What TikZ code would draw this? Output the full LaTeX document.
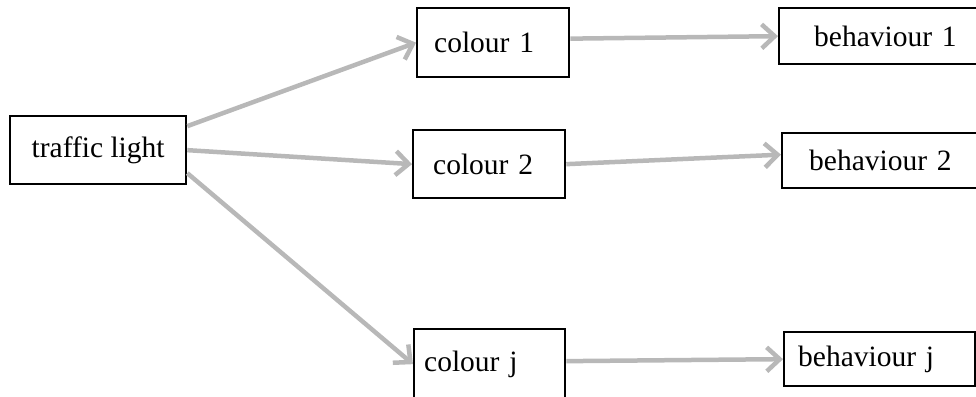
\documentclass[tikz,border=0pt]{standalone}
\usepackage{fontspec}
\setmainfont{Liberation Serif}
\usetikzlibrary{arrows.meta}

\definecolor{linkgray}{RGB}{184,184,184}
\tikzstyle{block} = [rectangle, draw, line width=2.3pt, anchor=north west, inner ysep=0pt, font=\fontsize{29.5}{34}\selectfont]

\begin{document}
\begin{tikzpicture}[x=1pt, y=-1pt]
        \tikzset{link/.style = {draw=linkgray, line width=4.5pt, -{Straight Barb[length=13pt, width=24pt]}}}
        \useasboundingbox (0,0) rectangle (976,396);
        % Source node
        \node (tl) at (9,115) [block, minimum width=176pt, minimum height=68pt] {traffic light};
        % Colours
        \node (c1) at (416,7) [block, text width=118pt, inner xsep=17pt, align=left, minimum height=69pt] {colour 1};
        \node (c2) at (412,129) [block, text width=112pt, inner xsep=20pt, align=left, minimum height=68pt] {colour 2};
        \node (cj) at (413,328) [block, text width=131pt, inner xsep=10pt, align=left, minimum height=70pt] {colour j};
        % Behaviours
        \node (b1) at (778,7) [block, text width=170pt, inner xsep=35pt, align=left, minimum height=56pt] {behaviour 1};
        \node (b2) at (781,132) [block, text width=186pt, inner xsep=27pt, align=left, minimum height=55pt] {behaviour 2};
        \node (bj) at (783,331) [block, text width=163pt, inner xsep=14pt, align=left, minimum height=54pt] {behaviour j};

        \draw [link] ([yshift=24pt]tl.east) -- (c1.west);
        \draw [link] (tl.east) -- (c2.west);
        \draw [link] ([yshift=-23pt]tl.east) -- (cj.west);
        \draw [link] ([yshift=4pt]c1.east) -- (b1.west);
        \draw [link] (c2.east) -- ([yshift=6pt]b2.west);
        \draw [link] ([yshift=3pt]cj.east) -- (bj.west);
    \end{tikzpicture}
\end{document}
